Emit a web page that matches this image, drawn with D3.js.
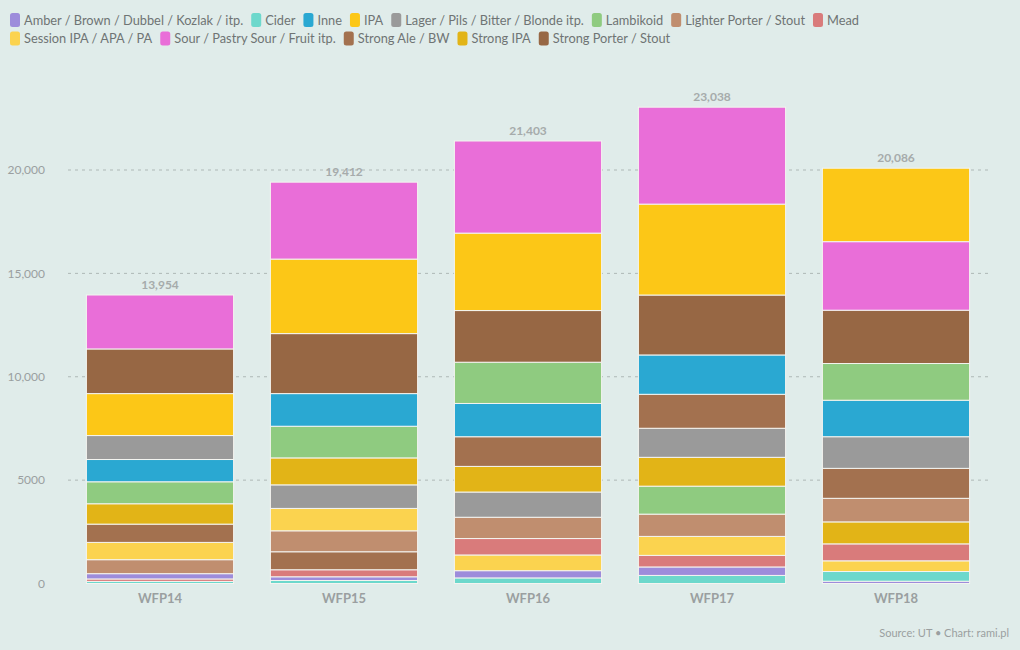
<!DOCTYPE html>
<html>
<head>
<meta charset="utf-8">
<script src="https://cdn.jsdelivr.net/npm/d3@7"></script>
<style>
  html, body { margin: 0; padding: 0; background: #e0ecea; }
  svg { display: block; font-family: Lato, "Open Sans", sans-serif; }
</style>
</head>
<body>
<svg id="chart" width="1020" height="650"></svg>
<script>
// ---- data ----
const years = ["WFP14", "WFP15", "WFP16", "WFP17", "WFP18"];
const categories = [
  "Amber / Brown / Dubbel / Kozlak / itp.",
  "Cider",
  "Inne",
  "IPA",
  "Lager / Pils / Bitter / Blonde itp.",
  "Lambikoid",
  "Lighter Porter / Stout",
  "Mead",
  "Session IPA / APA / PA",
  "Sour / Pastry Sour / Fruit itp.",
  "Strong Ale / BW",
  "Strong IPA",
  "Strong Porter / Stout"
];
const colors = [
  "#9d8cdb", "#6dd8cc", "#2aa8d2", "#fcc717", "#9a9a9a", "#8fcb80",
  "#c08e6f", "#d97b7b", "#fbd34f", "#e96ed8", "#a3714f", "#e2b417", "#976744"
];
// values per category, in the order of years
const amber        = [256, 180, 350, 410, 110];
const cider        = [100, 145, 270, 390, 470];
const inne         = [1077, 1579, 1609, 1903, 1765];
const ipa          = [2029, 3604, 3745, 4397, 3552];
const lager        = [1159, 1140, 1220, 1405, 1531];
const lambikoid    = [1063, 1531, 1995, 1353, 1775];
const lighterPorter= [676, 1014, 1029, 1077, 1140];
const mead         = [120, 340, 795, 560, 820];
const sessionIpa   = [836, 1082, 760, 918, 517];
const sour         = [2609, 3721, 4456, 4688, 3315];
const strongAle    = [884, 870, 1435, 1643, 1449];
const strongIpa    = [985, 1304, 1240, 1395, 1063];
const strongPorter = [2160, 2902, 2499, 2899, 2579];
const seriesValues = [amber, cider, inne, ipa, lager, lambikoid, lighterPorter,
  mead, sessionIpa, sour, strongAle, strongIpa, strongPorter];
const yTicks = [0, 5000, 10000, 15000, 20000];

// ---- chart ----
const svg = d3.select("#chart");
const x = d3.scaleBand().domain(years).range([68, 988]).paddingInner(0.2).paddingOuter(0.1);
const y = d3.scaleLinear().domain([0, 20000]).range([583.5, 170]);
const color = d3.scaleOrdinal().domain(categories).range(colors);

// gridlines
svg.append("g").selectAll("line")
  .data(yTicks.filter(d => d > 0))
  .join("line")
  .attr("x1", 68).attr("x2", 988)
  .attr("y1", d => y(d)).attr("y2", d => y(d))
  .attr("stroke", "#aeb8b6").attr("stroke-width", 1)
  .attr("stroke-dasharray", "3,4");

// y axis labels
const fmtTick = d => d >= 10000 ? d3.format(",")(d) : String(d);
const yAxis = d3.axisLeft(y).tickValues(yTicks).tickFormat(fmtTick).tickSize(0).tickPadding(0);
const yg = svg.append("g").attr("transform", "translate(45,0)").call(yAxis);
yg.select(".domain").remove();
yg.selectAll("text").attr("fill", "#9a9fa0").style("font-size", "12px")
  .style("font-family", "Lato, sans-serif");

// bars: stacked per bar, sorted so largest on top
const stacks = years.map((yr, i) => {
  const items = categories.map((c, k) => ({ cat: c, value: seriesValues[k][i], year: yr }))
    .filter(d => d.value > 0)
    .sort((a, b) => a.value - b.value);
  let acc = 0;
  items.forEach(d => { d.y0 = acc; acc += d.value; d.y1 = acc; });
  return { year: yr, items, total: acc };
});

const barG = svg.append("g");
stacks.forEach(s => {
  barG.append("g").selectAll("rect")
    .data(s.items)
    .join("rect")
    .attr("x", x(s.year))
    .attr("width", x.bandwidth())
    .attr("y", d => y(d.y1))
    .attr("height", d => Math.max(0, y(d.y0) - y(d.y1)))
    .attr("fill", d => color(d.cat))
    .attr("stroke", "#f4f4f0")
    .attr("stroke-width", 1);
});

// totals
svg.append("g").selectAll("text")
  .data(stacks)
  .join("text")
  .attr("x", d => x(d.year) + x.bandwidth() / 2)
  .attr("y", d => y(d.total) - 6)
  .attr("text-anchor", "middle")
  .attr("fill", "#a6abab")
  .style("font-size", "12px")
  .style("font-weight", "bold")
  .text(d => d3.format(",")(d.total));

// x axis labels
const xAxis = d3.axisBottom(x).tickSize(0).tickPadding(0);
const xg = svg.append("g").attr("transform", "translate(0,603)").call(xAxis);
xg.select(".domain").remove();
xg.selectAll("text").attr("fill", "#9a9fa0").attr("dy", 0)
  .style("font-size", "13px").style("font-weight", "bold")
  .style("font-family", "Lato, sans-serif");

// legend
const rows = [categories.slice(0, 8), categories.slice(8)];
const legend = svg.append("g");
rows.forEach((row, r) => {
  let cx = 10;
  const cy = 20 + r * 18.5;
  row.forEach(c => {
    const g = legend.append("g").attr("transform", `translate(${cx},${cy})`);
    g.append("rect").attr("x", 0).attr("y", -7).attr("width", 10).attr("height", 14)
      .attr("rx", 2.5).attr("fill", color(c));
    const t = g.append("text").attr("x", 14).attr("y", 4.5)
      .attr("fill", "#6f7474").style("font-size", "12.8px").text(c);
    const w = t.node().getComputedTextLength();
    cx += 14 + w + 8;
  });
});

// source
svg.append("text")
  .attr("x", 1009).attr("y", 637)
  .attr("text-anchor", "end")
  .attr("fill", "#9a9fa0")
  .style("font-size", "11px")
  .text("Source: UT \u2022 Chart: rami.pl");
</script>
</body>
</html>
